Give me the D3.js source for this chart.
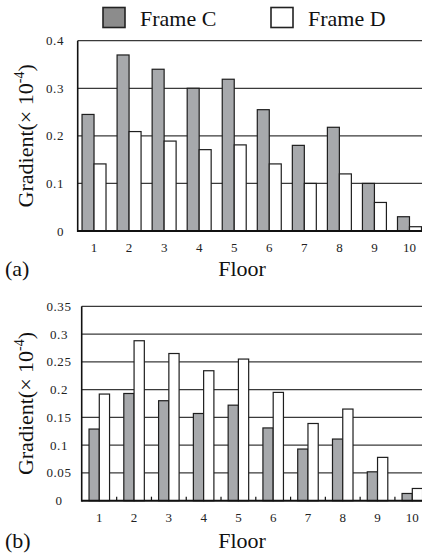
<!DOCTYPE html>
<html>
<head>
<meta charset="utf-8">
<script src="https://cdn.jsdelivr.net/npm/d3@7"></script>
<style>
  body { margin: 0; background: #fff; }
  svg { display: block; font-family: "Liberation Serif", "DejaVu Serif", serif; }
  .tick-label { font-size: 13px; fill: #222; letter-spacing: 0.6px; }
  .axis-title { font-size: 22px; fill: #111; }
</style>
</head>
<body>
<div id="chart"></div>
<script>
// data
var floors = ["1", "2", "3", "4", "5", "6", "7", "8", "9", "10"];
var series = ["Frame C", "Frame D"];

// (a)
var frameC_a = [0.245, 0.370, 0.340, 0.300, 0.319, 0.255, 0.180, 0.218, 0.100, 0.030];
var frameD_a = [0.141, 0.209, 0.189, 0.171, 0.181, 0.141, 0.100, 0.120, 0.060, 0.009];
var yTicks_a = [0, 0.1, 0.2, 0.3, 0.4];

// (b)
var frameC_b = [0.129, 0.193, 0.180, 0.157, 0.172, 0.131, 0.093, 0.111, 0.052, 0.013];
var frameD_b = [0.192, 0.288, 0.265, 0.234, 0.255, 0.195, 0.139, 0.165, 0.078, 0.022];
var yTicks_b = [0, 0.05, 0.1, 0.15, 0.2, 0.25, 0.3, 0.35];

var W = 422, H = 553;
var colors = { "Frame C": "#a7a9ac", "Frame D": "#ffffff" };

var svg = d3.select("#chart").append("svg")
  .attr("width", W)
  .attr("height", H);

// legend
var legendX = [103, 271];
series.forEach(function(s, i) {
  svg.append("rect")
    .attr("x", legendX[i]).attr("y", 7.5)
    .attr("width", 22).attr("height", 20)
    .attr("fill", i == 0 ? "#8c8c8c" : "#fff")
    .attr("stroke", "#222").attr("stroke-width", 1.6);
  svg.append("text")
    .attr("x", legendX[i] + 37).attr("y", 25.5)
    .attr("font-size", "22px")
    .attr("fill", "#111")
    .text(s);
});

function drawPanel(opt) {
  var g = svg.append("g");

  var x = d3.scaleBand()
    .domain(floors)
    .range([opt.x0, opt.x1])
    .paddingInner(opt.pad)
    .paddingOuter(opt.pad / 2);
  var x1 = d3.scaleBand()
    .domain(series)
    .range([0, x.bandwidth()]);
  var y = d3.scaleLinear()
    .domain([0, opt.ymax])
    .range([opt.bottom, opt.top]);

  // gridlines
  g.selectAll(".grid")
    .data(opt.ticks.filter(function(t) { return t > 0; }))
    .enter().append("line")
    .attr("x1", opt.left).attr("x2", W)
    .attr("y1", function(d) { return y(d); })
    .attr("y2", function(d) { return y(d); })
    .attr("stroke", "#3a3a3a")
    .attr("stroke-width", 1.3);

  // bars
  var rows = floors.map(function(f, i) {
    return { floor: f, vals: [{ k: "Frame C", v: opt.c[i] }, { k: "Frame D", v: opt.d[i] }] };
  });
  g.selectAll(".grp")
    .data(rows)
    .enter().append("g")
    .attr("transform", function(d) { return "translate(" + x(d.floor) + ",0)"; })
    .selectAll("rect")
    .data(function(d) { return d.vals; })
    .enter().append("rect")
    .attr("x", function(d) { return x1(d.k); })
    .attr("width", x1.bandwidth())
    .attr("y", function(d) { return y(d.v); })
    .attr("height", function(d) { return opt.bottom - y(d.v); })
    .attr("fill", function(d) { return colors[d.k]; })
    .attr("stroke", "#1e1e1e")
    .attr("stroke-width", 1.2);

  // axes lines
  g.append("line")
    .attr("x1", opt.left).attr("x2", opt.left)
    .attr("y1", opt.top).attr("y2", opt.bottom + 1)
    .attr("stroke", "#111").attr("stroke-width", 1.6);
  g.append("line")
    .attr("x1", opt.left).attr("x2", W)
    .attr("y1", opt.bottom).attr("y2", opt.bottom)
    .attr("stroke", "#111").attr("stroke-width", 2);

  // small category ticks
  if (opt.catTicks) {
    g.selectAll(".ctick")
      .data(floors.slice(1))
      .enter().append("line")
      .attr("x1", function(d) { return x(d) - x.step() * opt.pad / 2; })
      .attr("x2", function(d) { return x(d) - x.step() * opt.pad / 2; })
      .attr("y1", opt.bottom).attr("y2", opt.bottom - 4)
      .attr("stroke", "#111").attr("stroke-width", 1.2);
  }

  // y tick labels
  g.selectAll(".ylab")
    .data(opt.ticks)
    .enter().append("text")
    .attr("class", "tick-label")
    .attr("x", opt.ylabX)
    .attr("y", function(d) { return y(d) + 4.5; })
    .attr("text-anchor", opt.ylabAnchor)
    .text(function(d) { return d === 0 ? "0" : String(d).replace(/^0/, "0"); });

  // x tick labels
  g.selectAll(".xlab")
    .data(floors)
    .enter().append("text")
    .attr("class", "tick-label")
    .style("letter-spacing", "0px")
    .attr("x", function(d) { return x(d) + x.bandwidth() / 2; })
    .attr("y", opt.bottom + 21)
    .attr("text-anchor", "middle")
    .text(function(d) { return d; });

  // axis titles
  g.append("text")
    .attr("class", "axis-title")
    .attr("x", 242).attr("y", opt.titleY)
    .attr("text-anchor", "middle")
    .text("Floor");
  g.append("text")
    .attr("class", "axis-title")
    .attr("font-size", "21px")
    .attr("x", 5).attr("y", opt.titleY)
    .text(opt.tag);

  var yt = g.append("text")
    .attr("class", "axis-title")
    .attr("text-anchor", "middle")
    .attr("transform", "translate(33," + ((opt.top + opt.bottom) / 2) + ")rotate(-90)");
  yt.append("tspan").text("Gradient(× 10");
  yt.append("tspan").attr("font-size", "14px").attr("dy", -9).text("-4");
  yt.append("tspan").attr("dy", 9).text(")");
}

drawPanel({
  c: frameC_a, d: frameD_a, ticks: yTicks_a, ymax: 0.4,
  left: 77.7, top: 40.7, bottom: 231,
  x0: 76.5, x1: 427, pad: 0.316,
  ylabX: 64, ylabAnchor: "end",
  catTicks: false, titleY: 276, tag: "(a)"
});

drawPanel({
  c: frameC_b, d: frameD_b, ticks: yTicks_b, ymax: 0.35,
  left: 81.7, top: 306.3, bottom: 500.7,
  x0: 81.9, x1: 429.7, pad: 0.41,
  ylabX: 59, ylabAnchor: "middle",
  catTicks: true, titleY: 548, tag: "(b)"
});
</script>
</body>
</html>
